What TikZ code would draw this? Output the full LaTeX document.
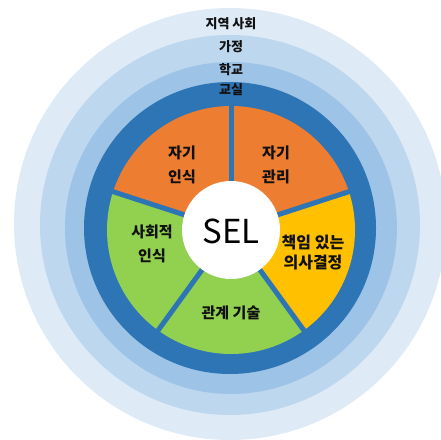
\documentclass[tikz,border=0pt]{standalone}
\usepackage{fontspec}
\setmainfont{Noto Sans CJK KR}
\definecolor{ringA}{HTML}{DEEBF7}
\definecolor{ringB}{HTML}{BDD7EE}
\definecolor{ringC}{HTML}{9DC3E6}
\definecolor{ringD}{HTML}{2E75B6}
\definecolor{segO}{HTML}{ED7D31}
\definecolor{segY}{HTML}{FFC000}
\definecolor{segG}{HTML}{92D050}
\definecolor{txt}{HTML}{111111}
\tikzset{
  ringlabel/.style={text=txt, font=\fontsize{13}{15}\selectfont\bfseries, inner sep=0pt},
  seglabel/.style={text=txt, font=\fontsize{15}{24}\selectfont\bfseries, align=center, inner sep=0pt},
  sepline/.style={draw=ringD, line width=5pt},
}
\begin{document}
\begin{tikzpicture}[x=1pt,y=1pt]
\useasboundingbox (0,0) rectangle (441,439);
% rings (image y -> 439 - y)
\fill[ringA] (230,215) circle[radius=216pt];
\fill[ringB] (230,214) circle[radius=190pt];
\fill[ringC] (231,211) circle[radius=166pt];
\fill[ringD] (230,211) circle[radius=146pt];
\coordinate (C) at (231,209);
% wedges
\fill[segO] (C) -- ++(90:124pt) arc[start angle=90, end angle=162, radius=124pt] -- cycle;
\fill[segO] (C) -- ++(18:124pt) arc[start angle=18, end angle=90, radius=124pt] -- cycle;
\fill[segY] (C) -- ++(-54:124pt) arc[start angle=-54, end angle=18, radius=124pt] -- cycle;
\fill[segG] (C) -- ++(-126:124pt) arc[start angle=-126, end angle=-54, radius=124pt] -- cycle;
\fill[segG] (C) -- ++(162:124pt) arc[start angle=162, end angle=234, radius=124pt] -- cycle;
% separators
\foreach \a in {90,18,-54,-126,162} \draw[sepline] (C) -- ++(\a:126pt);
% centre
\fill[white] (C) circle[radius=49pt];
\node[text=black, font=\fontsize{33}{36}\selectfont, inner sep=0pt] (sel) at (231,208) {SEL};
% ring labels
\node[ringlabel] (l1) at (231,415) {지역 사회};
\node[ringlabel] (l2) at (231,392) {가정};
\node[ringlabel] (l3) at (231,369) {학교};
\node[ringlabel] (l4) at (231,349) {교실};
% segment labels
\node[seglabel] (s1) at (182,274) {자기\\인식};
\node[seglabel] (s2) at (276,274) {자기\\관리};
\node[seglabel] (s3) at (152,195) {사회적\\인식};
\node[seglabel, font=\fontsize{16}{20}\selectfont\bfseries] (s4) at (313,186) {책임 있는\\의사결정};
\node[seglabel] (s5) at (231,126) {관계 기술};
\end{tikzpicture}
\end{document}
